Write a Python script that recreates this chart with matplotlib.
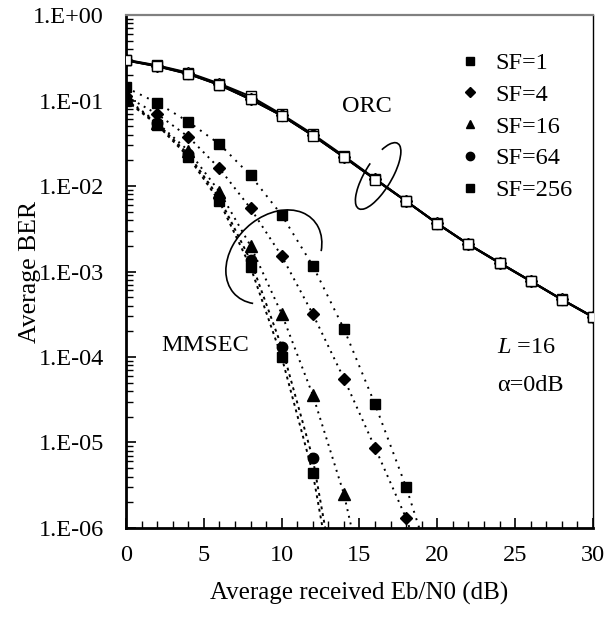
import matplotlib
matplotlib.use("Agg")
import matplotlib.pyplot as plt
from matplotlib.lines import Line2D
from matplotlib.patches import Arc
from matplotlib.transforms import ScaledTranslation
from matplotlib.ticker import FixedLocator, FixedFormatter, MultipleLocator, LogLocator, NullFormatter

plt.rcParams['font.family'] = ['Liberation Serif', 'DejaVu Serif']
plt.rcParams['mathtext.fontset'] = 'custom'
plt.rcParams['mathtext.rm'] = 'Liberation Serif'
plt.rcParams['mathtext.it'] = 'Liberation Serif:italic'

# ---------------- data ----------------
snr = [0, 2, 4, 6, 8, 10, 12, 14, 16, 18, 20, 22, 24, 26, 28, 30]

sf_labels = ["SF=1", "SF=4", "SF=16", "SF=64", "SF=256"]
markers = ["s", "D", "^", "o", "s"]
msizes = [7.5, 6.5, 8, 7.5, 7.5]

# ORC (open markers, solid lines) - curves practically coincide
orc_sf1 = [0.30, 0.258, 0.212, 0.158, 0.112, 0.0690, 0.0405, 0.0225, 0.0122, 0.00668,
           0.00366, 0.00209, 0.00127, 0.000776, 0.000473, 0.000296]
orc_sf4 = [0.298, 0.255, 0.208, 0.155, 0.105, 0.0676, 0.0395, 0.0220, 0.0121, 0.00668,
           0.00366, 0.00209, 0.00127, 0.000776, 0.000473, 0.000296]
orc_sf16 = [0.296, 0.253, 0.206, 0.153, 0.104, 0.0670, 0.0392, 0.0219, 0.0120, 0.00665,
            0.00364, 0.00208, 0.00126, 0.000772, 0.000470, 0.000294]
orc_sf64 = [0.294, 0.252, 0.205, 0.152, 0.103, 0.0667, 0.0390, 0.0218, 0.0120, 0.00663,
            0.00363, 0.00207, 0.00126, 0.000770, 0.000469, 0.000293]
orc_sf256 = [0.294, 0.251, 0.204, 0.152, 0.103, 0.0665, 0.0389, 0.0217, 0.0119, 0.00662,
             0.00362, 0.00207, 0.00125, 0.000768, 0.000468, 0.000292]
orc_all = [orc_sf1, orc_sf4, orc_sf16, orc_sf64, orc_sf256]

# MMSEC (filled markers, dotted lines); last value of each lies below the axis
mm_snr_sf1 = [0, 2, 4, 6, 8, 10, 12, 14, 16, 18, 20]
mm_sf1 = [0.142, 0.094, 0.0565, 0.031, 0.0133, 0.00458, 0.00117, 2.14e-4, 2.8e-5, 3.0e-6, 2.2e-7]
mm_snr_sf4 = [0, 2, 4, 6, 8, 10, 12, 14, 16, 18, 20]
mm_sf4 = [0.112, 0.0695, 0.0377, 0.0161, 0.00548, 0.00152, 3.18e-4, 5.6e-5, 8.7e-6, 1.3e-6, 1.2e-7]
mm_snr_sf16 = [0, 2, 4, 6, 8, 10, 12, 14, 16]
mm_sf16 = [0.106, 0.055, 0.026, 0.0086, 0.0020, 3.2e-4, 3.6e-5, 2.5e-6, 6e-8]
mm_snr_sf64 = [0, 2, 4, 6, 8, 10, 12, 14]
mm_sf64 = [0.102, 0.054, 0.0235, 0.0072, 0.00135, 1.32e-4, 6.5e-6, 6e-8]
mm_snr_sf256 = [0, 2, 4, 6, 8, 10, 12, 14]
mm_sf256 = [0.100, 0.052, 0.022, 0.0066, 0.00113, 1.0e-4, 4.4e-6, 4e-8]
mm_x = [mm_snr_sf1, mm_snr_sf4, mm_snr_sf16, mm_snr_sf64, mm_snr_sf256]
mm_all = [mm_sf1, mm_sf4, mm_sf16, mm_sf64, mm_sf256]
mm_dash = [(0, (1, 3)), (0, (1, 2.5)), (0, (1, 2.5)), (0, (1.5, 2)), (0, (1.5, 2))]

ytick_vals = [1e0, 1e-1, 1e-2, 1e-3, 1e-4, 1e-5, 1e-6]
ytick_labels = ["1.E+00", "1.E-01", "1.E-02", "1.E-03", "1.E-04", "1.E-05", "1.E-06"]

# ---------------- figure ----------------
fig = plt.figure(figsize=(6.05, 6.21), dpi=100)
ax = fig.add_axes([0.2083, 0.1498, 0.7717, 0.826])

for ys, mk, ms in zip(orc_all, markers, msizes):
    ax.plot(snr, ys, color="black", lw=1.4, marker=mk, ms=ms * 0.95,
            mfc="white", mec="black", mew=1.0, zorder=3)

for xs, ys, mk, ms, ls in zip(mm_x, mm_all, markers, msizes, mm_dash):
    ax.plot(xs, ys, color="black", lw=1.4, linestyle=ls, zorder=2)
    ax.plot(xs, ys, linestyle="none", marker=mk, ms=ms, mfc="black", mec="black", zorder=4)

ax.set_yscale("log")
ax.set_xlim(0, 30)
ax.set_ylim(1e-6, 1)

ax.yaxis.set_major_locator(FixedLocator(ytick_vals))
ax.yaxis.set_major_formatter(FixedFormatter(ytick_labels))
ax.yaxis.set_minor_locator(LogLocator(base=10, subs=range(2, 10), numticks=20))
ax.yaxis.set_minor_formatter(NullFormatter())
ax.xaxis.set_major_locator(MultipleLocator(5))
ax.xaxis.set_minor_locator(MultipleLocator(1))

ax.tick_params(axis="both", which="major", direction="in", length=7, width=1.2,
               labelsize=17.5, pad=12, top=False, right=False)
ax.tick_params(axis="both", which="minor", direction="in", length=5, width=1.0,
               top=False, right=False)
ax.tick_params(axis="y", which="major", pad=16)

ax.spines["left"].set_linewidth(2.0)
ax.spines["bottom"].set_linewidth(2.0)
ax.spines["top"].set_linewidth(1.6)
ax.spines["top"].set_color("#808080")
ax.spines["right"].set_linewidth(1.0)

ax.set_xlabel("Average received Eb/N0 (dB)", fontsize=18, labelpad=12)
ax.set_ylabel("Average BER", fontsize=18.5, labelpad=-6)

# annotations
ax.text(15.5, 0.086, "ORC", fontsize=17.5, ha="center", va="center")
ax.text(5.1, 1.38e-4, "MMSEC", fontsize=17.5, ha="center", va="center")
ax.text(23.85, 1.3e-4, "$L$ =16", fontsize=17.5, ha="left", va="center")
ax.text(23.85, 4.6e-5, "α=0dB", fontsize=17.5, ha="left", va="center")

def ellipse_arc(x, y, w, h, ang, t1, t2):
    tr = fig.dpi_scale_trans + ScaledTranslation(x, y, ax.transData)
    arc = Arc((0, 0), w, h, angle=ang, theta1=t1, theta2=t2, transform=tr,
              color="black", lw=1.2, zorder=5)
    ax.add_patch(arc)

ellipse_arc(16.2, 0.0131, 0.76, 0.27, 59, 63, 383)
ellipse_arc(9.5, 1.48e-3, 1.08, 0.80, 43, -36, 203)

# legend (marker only)
handles = [Line2D([], [], linestyle="none", marker=mk, ms=ms * 0.8, mfc="black", mec="black")
           for mk, ms in zip(markers, msizes)]
ax.legend(handles, sf_labels, loc="upper left", bbox_to_anchor=(0.696, 0.9466),
          frameon=False, fontsize=17.5, handlelength=0.8, handletextpad=0.62,
          labelspacing=0.4, borderaxespad=0)

fig.savefig("out.png", dpi=100)
